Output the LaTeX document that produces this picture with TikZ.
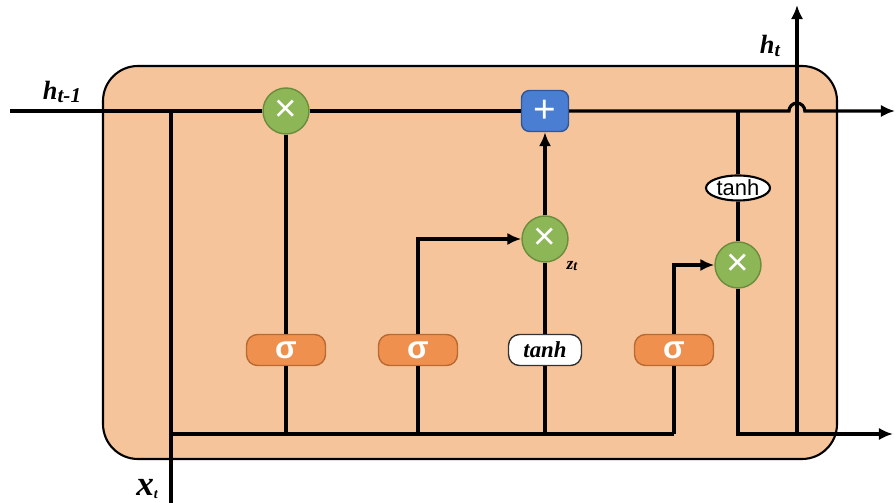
\documentclass[tikz,border=0pt]{standalone}
\usepackage{fontspec}
\setmainfont{Liberation Serif}
\newfontfamily\sansf{Liberation Sans}
\usetikzlibrary{positioning, shapes.geometric, arrows.meta}

\definecolor{cellfill}{HTML}{F6C49A}
\definecolor{gatefill}{HTML}{EF904E}
\definecolor{gateline}{HTML}{B86A33}
\definecolor{mulfill}{HTML}{8DB657}
\definecolor{mulline}{HTML}{6A8C3C}
\definecolor{addfill}{HTML}{4A7ED3}
\definecolor{addline}{HTML}{30569A}

\begin{document}
\begin{tikzpicture}[x=0.02cm, y=0.02cm, >={Latex[length=8pt,width=7pt]}]
        % one pixel of the sketch is one unit here
        \tikzstyle{mulnode}=[circle, draw=mulline, line width=0.8pt, fill=mulfill, minimum size=0.92cm, inner sep=0pt, text=white, font=\sansf\fontsize{22}{22}\selectfont]
        \tikzstyle{addnode}=[rectangle, rounded corners=0.16cm, draw=addline, line width=0.8pt, fill=addfill, minimum width=0.94cm, minimum height=0.82cm, inner sep=0pt, text=white, font=\sansf\fontsize{22}{22}\selectfont]
        \tikzstyle{gatebox}=[rectangle, rounded corners=0.22cm, draw=gateline, line width=0.8pt, fill=gatefill, minimum width=1.58cm, minimum height=0.62cm, inner sep=0pt, text=white, font=\sansf\bfseries\fontsize{18}{18}\selectfont]
        \tikzstyle{actbox}=[rectangle, rounded corners=0.22cm, draw=black!80, line width=0.8pt, fill=white, minimum width=1.46cm, minimum height=0.62cm, inner sep=0pt, font=\bfseries\itshape\fontsize{13}{13}\selectfont]
        \tikzstyle{actoval}=[ellipse, draw=black, line width=1.2pt, fill=white, minimum width=1.28cm, minimum height=0.5cm, inner sep=0pt, font=\sansf\fontsize{12.5}{12.5}\selectfont]
        \tikzstyle{lbl}=[inner sep=0pt, font=\bfseries\itshape]
        \tikzstyle{wire}=[draw=black, line width=1.8pt]

        \useasboundingbox (0,0) rectangle (896,503);

        % the cell body
        \draw[line width=1.2pt, fill=cellfill, rounded corners=0.7cm] (103,44) rectangle (837,437);

        % gates and point-wise operations
        \node[mulnode] (fx) at (286,392) {×};
        \node[addnode] (add) at (545,392) {+};
        \node[mulnode] (inx) at (545,264) {×};
        \node[mulnode] (outx) at (738,238) {×};
        \node[actoval] (tanhc) at (738,315) {tanh};

        \node[gatebox] (sg1) at (286,153) {σ};
        \node[gatebox] (sg2) at (418,153) {σ};
        \node[actbox] (tanhz) at (545,153) {tanh};
        \node[gatebox] (sg3) at (674,153) {σ};

        % ends of the lines
        \coordinate (hin) at (10,392);
        \coordinate (hout) at (895,392);
        \coordinate (xin) at (171,0);
        \coordinate (xsplit) at (171,392);
        \coordinate (bl) at (171,69);
        \coordinate (bfx) at (286,69);
        \coordinate (bsg2) at (418,69);
        \coordinate (bz) at (545,69);
        \coordinate (bsg3) at (674,69);
        \coordinate (cdrop) at (738,392);
        \coordinate (cbot) at (738,69);
        \coordinate (hbot) at (797,69);
        \coordinate (htop) at (797,498);
        \coordinate (ybot) at (893,69);
        \coordinate (jump) at (789,392);

        % labels
        \node[lbl, font=\bfseries\itshape\fontsize{15}{15}\selectfont] (hlbl) at (62,411) {h\raisebox{-1.5pt}{\fontsize{12}{12}\selectfont t-1}};
        \node[lbl, font=\bfseries\itshape\fontsize{15}{15}\selectfont] (htlbl) at (770,457) {h\raisebox{-1.5pt}{\fontsize{11}{11}\selectfont t}};
        \node[lbl, font=\bfseries\itshape\fontsize{20}{20}\selectfont] (xlbl) at (147,14) {x\raisebox{-2pt}{\fontsize{8}{8}\selectfont t}};
        \node[lbl, font=\bfseries\itshape\fontsize{10}{10}\selectfont] (zlbl) at (572,237) {z\raisebox{-1pt}{\fontsize{8}{8}\selectfont t}};

        % cell state
        \draw[wire] (hin) -- (fx);
        \draw[wire] (fx) -- (add);
        \draw[wire, ->] (add) -- (jump) arc (180:0:4.5pt) -- (hout);

        % input and hidden state feeding the gates
        \draw[wire] (xin) -- (xsplit);
        \draw[wire] (bl) -- (bsg3);
        \draw[wire] (bfx) -- (sg1);
        \draw[wire] (sg1) -- (fx);
        \draw[wire] (bsg2) -- (sg2);
        \draw[wire, ->] (sg2) |- (inx);
        \draw[wire] (bz) -- (tanhz);
        \draw[wire] (tanhz) -- (inx);
        \draw[wire, ->] (inx) -- (add);
        \draw[wire] (bsg3) -- (sg3);
        \draw[wire, ->] (sg3) |- (outx);

        % output
        \draw[wire] (cdrop) -- (tanhc);
        \draw[wire] (tanhc) -- (outx);
        \draw[wire, ->] (outx) -- (cbot) -- (ybot);
        \draw[wire, ->] (hbot) -- (htop);
      \end{tikzpicture}
\end{document}
